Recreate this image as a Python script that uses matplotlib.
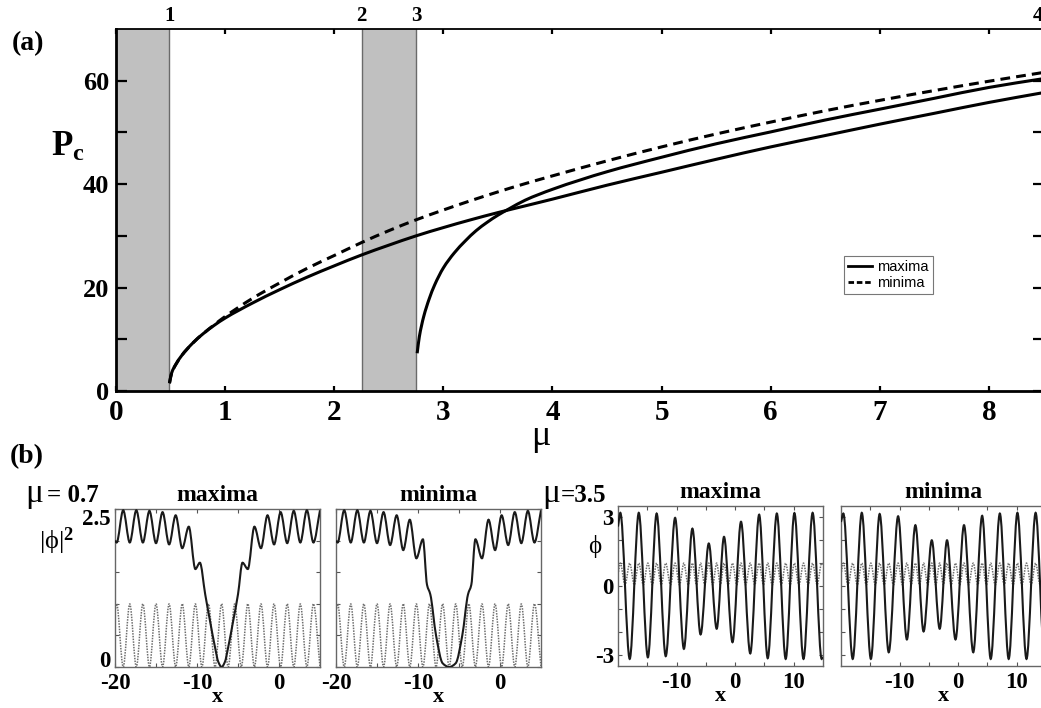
import matplotlib
matplotlib.use('Agg')
import matplotlib.pyplot as plt
from matplotlib.path import Path
from matplotlib.patches import PathPatch
from matplotlib.lines import Line2D
import matplotlib.transforms as mtransforms
import numpy as np

plt.rcParams['font.family'] = ['Liberation Serif', 'DejaVu Serif']
plt.rcParams['font.weight'] = 'bold'
plt.rcParams['axes.unicode_minus'] = False
plt.rcParams['mathtext.fontset'] = 'custom'
plt.rcParams['mathtext.rm'] = 'Liberation Serif'
plt.rcParams['mathtext.bf'] = 'Liberation Serif:bold'
plt.rcParams['mathtext.it'] = 'Liberation Serif:italic'

# ---------------- data: panel (a) ----------------
mu_branch1 = [0.49, 0.51, 0.55, 0.60, 0.70, 0.80, 0.90, 1.00, 1.25, 1.50, 1.75, 2.00, 2.25,
              2.50, 2.75, 3.00, 3.25, 3.50, 3.75, 4.00, 4.50, 5.00, 5.50, 6.00, 6.50, 7.00,
              7.50, 8.00, 8.50]
P_branch1 = [1.5, 3.5, 5.2, 6.8, 9.2, 11.1, 12.7, 14.1, 17.0, 19.6, 22.0, 24.2, 26.3,
             28.2, 30.0, 31.6, 33.1, 34.5, 35.8, 37.1, 39.8, 42.3, 44.8, 47.2, 49.4, 51.6,
             53.7, 55.8, 57.7]
mu_branch2 = [2.76, 2.78, 2.82, 2.87, 2.92, 3.00, 3.10, 3.20, 3.30, 3.40, 3.50, 3.60, 3.75,
              4.00, 4.50, 5.00, 5.50, 6.00, 6.50, 7.00, 7.50, 8.00, 8.50]
P_branch2 = [7.3, 10.5, 14.4, 17.8, 20.5, 23.8, 26.7, 29.0, 31.0, 32.6, 34.0, 35.2, 36.9,
             39.0, 42.4, 45.2, 47.8, 50.1, 52.4, 54.5, 56.6, 58.7, 60.4]
mu_minima = [0.49, 0.51, 0.55, 0.60, 0.70, 0.80, 0.90, 1.00, 1.25, 1.50, 1.75, 2.00, 2.25,
             2.50, 2.75, 3.00, 3.25, 3.50, 3.75, 4.00, 4.50, 5.00, 5.50, 6.00, 6.50, 7.00,
             7.50, 8.00, 8.50]
P_minima = [1.5, 3.5, 5.2, 6.8, 9.2, 11.1, 12.8, 14.4, 17.9, 20.9, 23.7, 26.2, 28.7,
            31.0, 33.1, 35.0, 36.8, 38.5, 40.1, 41.6, 44.5, 47.2, 49.7, 52.0, 54.2, 56.2,
            58.1, 59.9, 61.6]
band_spans = [(0.0, 0.49), (2.25, 2.75)]
boundary_mu = [0.49, 2.25, 2.75, 8.45]
boundary_labels = ['1', '2', '3', '4']
legend_labels = ['maxima', 'minima']

# ---------------- data: panel (b), mu = 0.7 ----------------
x_b1 = [-20.0, -19.8, -19.0, -18.2, -17.4, -16.6, -15.8, -15.0, -14.2, -13.4, -12.6, -11.8,
        -11.0, -10.2, -9.65, -9.0, -8.4, -7.8, -7.4, -7.0, -6.6, -6.2, -5.6, -5.0, -4.45,
        -3.8, -3.0, -2.2, -1.4, -0.6, 0.2, 1.0, 1.8, 2.6, 3.4, 4.2, 5.0]
dens_b1 = [2.0, 1.97, 2.48, 1.97, 2.48, 1.97, 2.47, 1.96, 2.45, 1.94, 2.40, 1.88,
           2.22, 1.55, 1.65, 1.15, 0.72, 0.31, 0.08, 0.0, 0.08, 0.31, 0.72, 1.15, 1.65,
           1.55, 2.22, 1.88, 2.40, 1.94, 2.45, 1.96, 2.47, 1.97, 2.48, 1.97, 2.48]
x_b2 = [-20.0, -19.8, -19.0, -18.2, -17.4, -16.6, -15.8, -15.0, -14.2, -13.4, -12.6, -11.8,
        -11.0, -10.2, -9.4, -8.9, -8.5, -7.8, -7.0, -6.2, -5.4, -4.6, -3.9, -3.5, -3.0,
        -2.2, -1.4, -0.6, 0.2, 1.0, 1.8, 2.6, 3.4, 4.2, 5.0]
dens_b2 = [2.0, 1.97, 2.48, 1.97, 2.48, 1.97, 2.47, 1.96, 2.45, 1.93, 2.40, 1.85,
           2.33, 1.72, 2.02, 1.30, 1.15, 0.50, 0.06, 0.0, 0.06, 0.50, 1.15, 1.30, 2.02,
           1.72, 2.33, 1.85, 2.40, 1.93, 2.45, 1.96, 2.47, 1.97, 2.48]
x_lat1 = [-20.0, -19.8, -19.0, -18.2, -17.4, -16.6, -15.8, -15.0, -14.2, -13.4, -12.6, -11.8,
          -11.0, -10.2, -9.4, -8.6, -7.8, -7.0, -6.2, -5.4, -4.6, -3.8, -3.0, -2.2, -1.4,
          -0.6, 0.2, 1.0, 1.8, 2.6, 3.4, 4.2, 5.0]
lat1 = [0.88, 1.0, 0.0, 1.0, 0.0, 1.0, 0.0, 1.0, 0.0, 1.0, 0.0, 1.0,
        0.0, 1.0, 0.0, 1.0, 0.0, 1.0, 0.0, 1.0, 0.0, 1.0, 0.0, 1.0, 0.0,
        1.0, 0.0, 1.0, 0.0, 1.0, 0.0, 1.0, 0.0]

# ---------------- data: panel (b), mu = 3.5 ----------------
x_b34 = [-20.0, -19.6, -18.0, -16.45, -14.9, -13.4, -11.85, -10.25, -8.75, -7.3, -5.9, -4.5,
         -3.15, -1.9, -0.45, 1.0, 2.58, 4.1, 5.56, 7.12, 8.63, 10.12, 11.67, 13.23, 14.77,
         15.0]
phi_b3 = [2.6, 3.2, -3.19, 3.2, -3.12, 3.17, -3.07, 2.98, -2.75, 2.51, -2.12, 1.86,
          -1.87, 2.15, -2.46, 2.81, -2.95, 3.12, -3.16, 3.17, -3.19, 3.19, -3.19, 3.2, -3.19,
          -3.1]
phi_b4 = [2.8, 3.17, -3.19, 3.2, -3.19, 3.15, -2.9, 3.05, -2.34, 2.66, -1.99, 2.0,
          -1.87, 2.0, -2.34, 2.66, -2.9, 3.07, -3.19, 3.17, -3.19, 3.2, -3.19, 3.2, -3.19,
          -3.1]
x_lat2 = [-20.0, -19.6, -18.8, -18.0, -17.22, -16.45, -15.68, -14.9, -14.15, -13.4, -12.62,
          -11.85, -11.05, -10.25, -9.5, -8.75, -8.02, -7.3, -6.6, -5.9, -5.2, -4.5, -3.82,
          -3.15, -2.52, -1.9, -1.18, -0.45, 0.28, 1.0, 1.79, 2.58, 3.34, 4.1, 4.83, 5.56,
          6.34, 7.12, 7.88, 8.63, 9.38, 10.12, 10.9, 11.67, 12.45, 13.23, 14.0, 14.77, 15.0]
lat2 = [0.5, 1.0, 0.05, 1.0, 0.05, 1.0, 0.05, 1.0, 0.05, 1.0, 0.05,
        1.0, 0.05, 1.0, 0.05, 1.0, 0.05, 1.0, 0.05, 1.0, 0.05, 1.0, 0.05,
        1.0, 0.05, 1.0, 0.05, 1.0, 0.05, 1.0, 0.05, 1.0, 0.05, 1.0, 0.05, 1.0,
        0.05, 1.0, 0.05, 1.0, 0.05, 1.0, 0.05, 1.0, 0.05, 1.0, 0.05, 1.0, 0.92]

W, H = 1041, 708
fig = plt.figure(figsize=(W / 100, H / 100), dpi=100)


def px_rect(x0, x1, ytop, ybot):
    return [x0 / W, 1 - ybot / H, (x1 - x0) / W, (ybot - ytop) / H]


def smooth_curve(ax, x, y, **kw):
    """Draw a smooth monotone cubic (Bezier) curve through the read points."""
    x = np.asarray(x, float)
    y = np.asarray(y, float)
    h = np.diff(x)
    d = np.diff(y) / h
    n = len(x)
    m = np.zeros(n)
    m[0] = d[0]
    m[-1] = d[-1]
    for k in range(1, n - 1):
        if d[k - 1] * d[k] <= 0:
            m[k] = 0.0
        else:
            w1 = 2 * h[k] + h[k - 1]
            w2 = h[k] + 2 * h[k - 1]
            m[k] = (w1 + w2) / (w1 / d[k - 1] + w2 / d[k])
    verts = [(x[0], y[0])]
    codes = [Path.MOVETO]
    for k in range(n - 1):
        verts += [(x[k] + h[k] / 3, y[k] + m[k] * h[k] / 3),
                  (x[k + 1] - h[k] / 3, y[k + 1] - m[k + 1] * h[k] / 3),
                  (x[k + 1], y[k + 1])]
        codes += [Path.CURVE4] * 3
    patch = PathPatch(Path(verts, codes), fill=False, **kw)
    ax.add_patch(patch)
    return patch


# ================= panel (a) =================
ax = fig.add_axes(px_rect(116, 1043.5, 29, 391))
ax.set_xlim(0, 8.5)
ax.set_ylim(0, 70)
for a0, a1 in band_spans:
    ax.axvspan(a0, a1, facecolor='#c0c0c0', edgecolor='none', zorder=0)
for xv in boundary_mu[:3]:
    ax.axvline(xv, color='#6a6a6a', lw=1.0, zorder=1)

solid_kw = dict(edgecolor='black', lw=2.2, capstyle='butt', joinstyle='round', zorder=3)
smooth_curve(ax, mu_branch1, P_branch1, **solid_kw)
smooth_curve(ax, mu_branch2, P_branch2, **solid_kw)
smooth_curve(ax, mu_minima, P_minima, edgecolor='black', lw=2.2, linestyle=(0, (3.2, 2.0)),
             capstyle='butt', zorder=4)

ax.set_xticks(range(0, 9))
ax.set_yticks([0, 20, 40, 60])
ax.set_yticks([10, 30, 50], minor=True)
ax.tick_params(axis='both', which='both', direction='in', top=True, right=True,
               width=1.6, color='black')
ax.tick_params(axis='x', which='both', length=3.5, labelsize=21, pad=6)
ax.tick_params(axis='y', which='both', length=8, labelsize=19, pad=5)
for lab in ax.get_xticklabels() + ax.get_yticklabels():
    lab.set_fontweight('bold')
for s in ['left', 'bottom']:
    ax.spines[s].set_linewidth(2.0)
ax.spines['top'].set_linewidth(1.3)
ax.spines['right'].set_linewidth(1.3)

trans_top = mtransforms.blended_transform_factory(ax.transData, ax.transAxes)
for xv, s in zip(boundary_mu, boundary_labels):
    ax.annotate(s, xy=(xv, 1.0), xycoords=trans_top, xytext=(0, 2),
                textcoords='offset points', ha='center', va='bottom',
                fontsize=15, fontweight='bold', annotation_clip=False)

handles = [Line2D([], [], color='black', lw=2.0),
           Line2D([], [], color='black', lw=2.0, linestyle=(0, (2.0, 1.0)))]
leg = ax.legend(handles, legend_labels, loc='upper left',
                bbox_to_anchor=(844 / W, 1 - 256 / H), bbox_transform=fig.transFigure,
                borderaxespad=0, prop={'family': 'Liberation Sans', 'weight': 'normal',
                                       'size': 10.5},
                frameon=True, fancybox=False, edgecolor='#777777', framealpha=1,
                handlelength=1.6, handletextpad=0.35, labelspacing=0.1, borderpad=0.3)
leg.get_frame().set_linewidth(0.8)

fig.text(541 / W, 1 - 437 / H, 'μ', fontsize=26, fontweight='normal', ha='center',
         va='center')
fig.text(68 / W, 1 - 147 / H, r'$\mathbf{P}_{\mathbf{c}}$', fontsize=25, ha='center',
         va='center')
fig.text(12 / W, 1 - 44 / H, '(a)', fontsize=20, fontweight='bold', ha='left',
         va='center')

# ================= panel (b) =================
fig.text(10 / W, 1 - 457 / H, '(b)', fontsize=20, fontweight='bold', ha='left',
         va='center')


def small_axes(rect, xlim, ylim, xmaj, xmin, ymaj, ymin, ylabels=True):
    a = fig.add_axes(rect)
    a.set_xlim(*xlim)
    a.set_ylim(*ylim)
    a.set_xticks(xmaj)
    a.set_xticks(xmin, minor=True)
    a.set_yticks(ymaj)
    a.set_yticks(ymin, minor=True)
    a.tick_params(axis='both', which='both', direction='in', top=True, right=True,
                  length=3, width=0.8, color='#555555', labelsize=16.5)
    a.tick_params(axis='x', which='both', pad=4)
    a.tick_params(axis='y', which='both', pad=3)
    if not ylabels:
        a.set_yticklabels([])
    for s in a.spines.values():
        s.set_color('#666666')
        s.set_linewidth(1.0)
    for lab in a.get_xticklabels() + a.get_yticklabels():
        lab.set_fontweight('bold')
    return a


line_kw = dict(edgecolor='#1a1a1a', lw=1.5, zorder=3)
lat_kw = dict(edgecolor='#6e6e6e', lw=1.1, linestyle=(0, (1.0, 0.8)), zorder=2)

ax1 = small_axes(px_rect(115, 320, 509, 667), (-20, 5), (0, 2.5), [-20, -10, 0], [-15, -5],
                 [0, 2.5], [0.5, 1.0, 1.5, 2.0])
ylabs = ax1.set_yticklabels(['0', '2.5'], fontweight='bold')
ylabs[0].set_va('baseline')
ylabs[1].set_va('top')
smooth_curve(ax1, x_lat1, lat1, **lat_kw)
smooth_curve(ax1, x_b1, dens_b1, **line_kw)

ax2 = small_axes(px_rect(336, 541, 509, 667), (-20, 5), (0, 2.5), [-20, -10, 0], [-15, -5],
                 [0, 2.5], [0.5, 1.0, 1.5, 2.0], ylabels=False)
smooth_curve(ax2, x_lat1, lat1, **lat_kw)
smooth_curve(ax2, x_b2, dens_b2, **line_kw)

ax3 = small_axes(px_rect(618, 823, 506, 666), (-20, 15), (-3.5, 3.5), [-10, 0, 10],
                 [-15, -5, 5], [-3, 0, 3], [-2, -1, 1, 2])
smooth_curve(ax3, x_lat2, lat2, **lat_kw)
smooth_curve(ax3, x_b34, phi_b3, **line_kw)

ax4 = small_axes(px_rect(841, 1046, 506, 666), (-20, 15), (-3.5, 3.5), [-10, 0, 10],
                 [-15, -5, 5], [-3, 0, 3], [-2, -1, 1, 2], ylabels=False)
smooth_curve(ax4, x_lat2, lat2, **lat_kw)
smooth_curve(ax4, x_b34, phi_b4, **line_kw)

for a, t in [(ax1, 'maxima'), (ax2, 'minima'), (ax3, 'maxima'), (ax4, 'minima')]:
    a.set_title(t, fontsize=17, fontweight='bold', pad=6)
    a.set_xlabel('x', fontsize=16, fontweight='bold', labelpad=-4.5)

# mu labels of panel (b): large regular mu followed by bold value, sharing a baseline
fig.text(25 / W, 1 - 502 / H, 'μ', fontsize=24, fontweight='normal', ha='left',
         va='baseline')
fig.text(47 / W, 1 - 502 / H, '= 0.7', fontsize=18, fontweight='bold', ha='left',
         va='baseline')
fig.text(542 / W, 1 - 502 / H, 'μ', fontsize=24, fontweight='normal', ha='left',
         va='baseline')
fig.text(561 / W, 1 - 502 / H, '=3.5', fontsize=18, fontweight='bold', ha='left',
         va='baseline')
fig.text(57 / W, 1 - 541 / H, r'|ϕ|$^{\mathbf{2}}$', fontsize=19, fontweight='normal',
         ha='center', va='center')
fig.text(595 / W, 1 - 546 / H, 'ϕ', fontsize=18, fontweight='normal', ha='center',
         va='center')

fig.savefig('out.png', dpi=100)
